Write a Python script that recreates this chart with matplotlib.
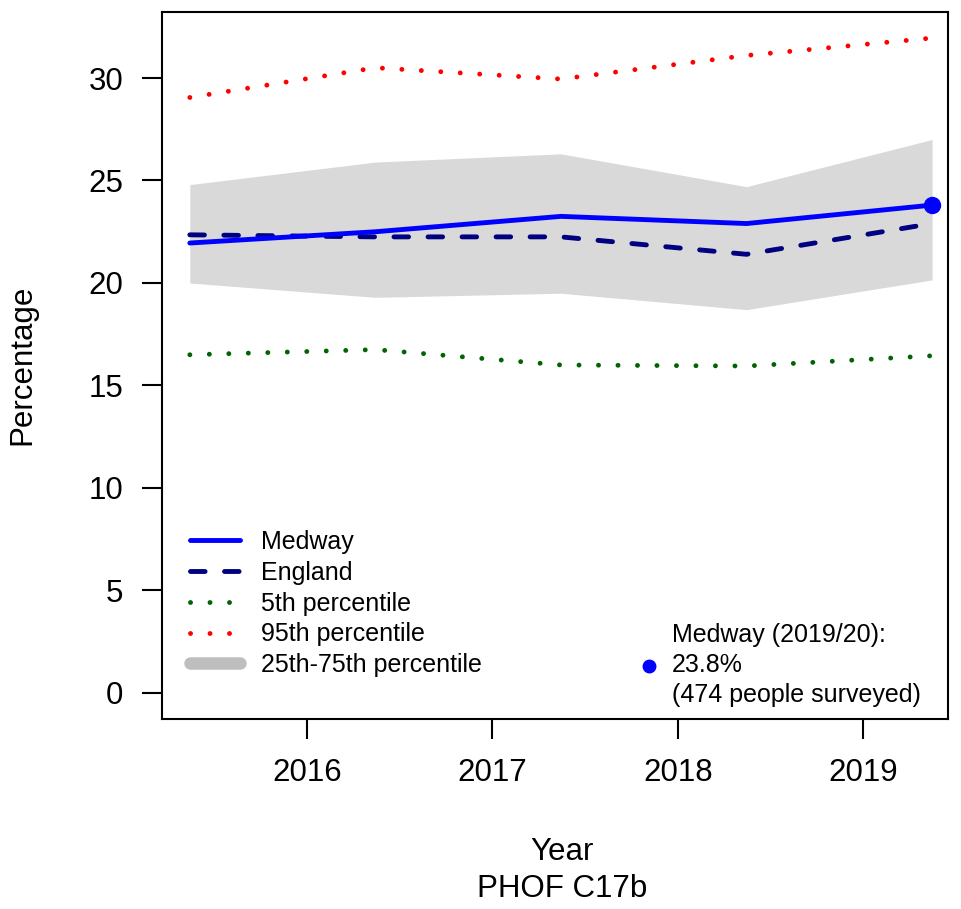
import matplotlib
matplotlib.use("Agg")
import matplotlib.pyplot as plt
from matplotlib.lines import Line2D

plt.rcParams["font.family"] = ["Liberation Sans", "DejaVu Sans"]

# Data
years = [2015.37, 2016.37, 2017.37, 2018.37, 2019.37]
medway = [21.95, 22.5, 23.25, 22.9, 23.8]
england = [22.35, 22.25, 22.25, 21.4, 22.9]
p5 = [16.5, 16.75, 16.0, 15.95, 16.45]
p25 = [20.0, 19.3, 19.5, 18.7, 20.15]
p75 = [24.8, 25.9, 26.3, 24.7, 27.0]
p95 = [29.05, 30.5, 29.95, 31.1, 31.95]

xticks = [2016, 2017, 2018, 2019]
yticks = [0, 5, 10, 15, 20, 25, 30]

latest_label = "Medway (2019/20):"
latest_value = "23.8%"
latest_n = "(474 people surveyed)"

fig = plt.figure(figsize=(9.61, 9.09), dpi=100)
ax = fig.add_axes([162 / 961, 1 - 719 / 909, (948 - 162) / 961, (719 - 12) / 909])

lw = 3.5
dots = (0, (0.01, 4.0))
dashes = (0, (3, 4))

ax.fill_between(years, p25, p75, color="#d9d9d9", linewidth=0, zorder=1)
ax.plot(years, p95, color="red", lw=lw, linestyle=dots, dash_capstyle="round", zorder=2)
ax.plot(years, p5, color="#006400", lw=lw, linestyle=dots, dash_capstyle="round", zorder=2)
ax.plot(years, england, color="#000080", lw=lw, linestyle=dashes,
        dash_capstyle="round", zorder=3)
ax.plot(years, medway, color="blue", lw=lw, solid_capstyle="round", zorder=4)
ax.plot(years[-1], medway[-1], "o", color="blue", markersize=11.5, zorder=5)

ax.set_xlim(2015.22, 2019.456)
ax.set_ylim(-1.27, 33.22)
ax.set_xticks(xticks)
ax.set_yticks(yticks)
ax.tick_params(axis="both", labelsize=22.5, length=14.4, width=1.5, pad=13.5)
for s in ax.spines.values():
    s.set_linewidth(1.5)

handles = [
    Line2D([], [], color="blue", lw=lw, solid_capstyle="round"),
    Line2D([], [], color="#000080", lw=lw, linestyle=dashes, dash_capstyle="round"),
    Line2D([], [], color="#006400", lw=lw, linestyle=dots, dash_capstyle="round"),
    Line2D([], [], color="red", lw=lw, linestyle=dots, dash_capstyle="round"),
    Line2D([], [], color="#bebebe", lw=9, solid_capstyle="round"),
]
labels = ["Medway", "England", "5th percentile", "95th percentile", "25th-75th percentile"]
ax.legend(handles, labels, loc="upper left", bbox_to_anchor=(0.0356, 0.267),
          frameon=False, fontsize=18, handlelength=2.0, handletextpad=0.85,
          labelspacing=0.27, borderpad=0, borderaxespad=0)

# latest value annotation
ax.text(0.649, 0.1190, latest_label, transform=ax.transAxes, fontsize=18, va="center", ha="left")
ax.text(0.649, 0.0764, latest_value, transform=ax.transAxes, fontsize=18, va="center", ha="left")
ax.text(0.649, 0.0340, latest_n, transform=ax.transAxes, fontsize=18, va="center", ha="left")
ax.plot([0.6196], [0.0750], "o", color="blue", markersize=9, transform=ax.transAxes,
        clip_on=False)

fig.text(562 / 961, 1 - 852 / 909, "Year", fontsize=22.5, ha="center", va="center")
fig.text(562 / 961, 1 - 889 / 909, "PHOF C17b", fontsize=22.5, ha="center", va="center")
fig.text(22 / 961, 1 - 365 / 909, "Percentage", fontsize=22.5, ha="center", va="center",
         rotation=90)

fig.savefig("out.png", dpi=100)
